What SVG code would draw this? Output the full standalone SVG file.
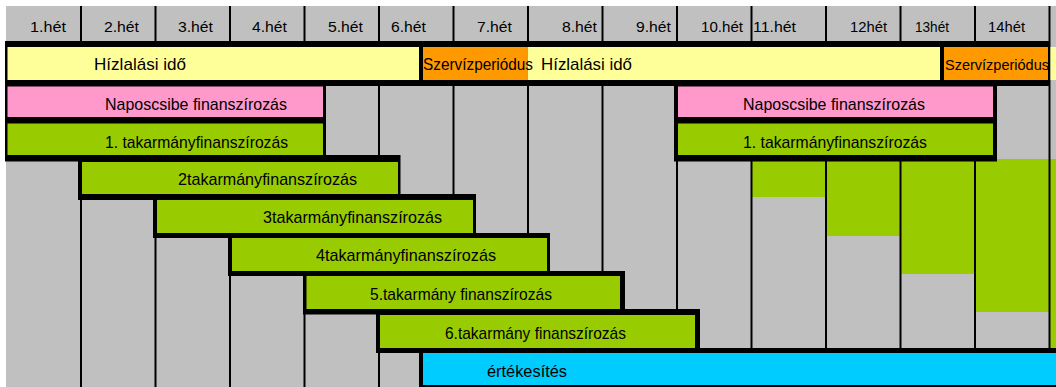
<svg xmlns="http://www.w3.org/2000/svg" width="1056" height="387" viewBox="0 0 1056 387">
  <style>
    .bg { fill: #c0c0c0; }
    .frame { fill: #000; }
    .grid { stroke: #000; stroke-width: 2; }
    .yellow { fill: #ffff99; }
    .orange { fill: #ff9900; }
    .pink { fill: #ff99cc; }
    .green { fill: #99cc00; }
    .cyan { fill: #00ccff; }
    text { font-family: "Liberation Sans", Arial, sans-serif; fill: #000; }
    .hdr { font-size: 15.5px; }
    .lbl { font-size: 17px; }
    .lbl-edge { font-size: 15px; }
  </style>

  <!-- page and timeline background -->
  <rect x="0" y="0" width="1056" height="387" fill="#fff"/>
  <rect class="bg" x="6" y="6" width="1050" height="381"/>

  <!-- weekly fill levels on the right-hand columns -->
  <g id="column-fills">
    <rect class="green" x="752" y="159" width="74" height="38"/>
    <rect class="green" x="826" y="159" width="74.5" height="77"/>
    <rect class="green" x="900.5" y="159" width="74.5" height="115"/>
    <rect class="green" x="975" y="159" width="74.5" height="153"/>
    <rect class="green" x="1049.5" y="159" width="6.5" height="189"/>
  </g>

  <!-- week separators -->
  <g id="grid">
    <line class="grid" x1="81" y1="6" x2="81" y2="387"/>
    <line class="grid" x1="155.5" y1="6" x2="155.5" y2="387"/>
    <line class="grid" x1="230" y1="6" x2="230" y2="387"/>
    <line class="grid" x1="304.5" y1="6" x2="304.5" y2="387"/>
    <line class="grid" x1="379" y1="6" x2="379" y2="387"/>
    <line class="grid" x1="453.5" y1="6" x2="453.5" y2="387"/>
    <line class="grid" x1="528" y1="6" x2="528" y2="387"/>
    <line class="grid" x1="602.5" y1="6" x2="602.5" y2="387"/>
    <line class="grid" x1="677" y1="6" x2="677" y2="387"/>
    <line class="grid" x1="751.5" y1="6" x2="751.5" y2="387"/>
    <line class="grid" x1="826" y1="6" x2="826" y2="387"/>
    <line class="grid" x1="900.5" y1="6" x2="900.5" y2="387"/>
    <line class="grid" x1="975" y1="6" x2="975" y2="387"/>
    <line class="grid" x1="1049.5" y1="6" x2="1049.5" y2="387"/>
  </g>

  <!-- week headings -->
  <g id="header">
    <text class="hdr" x="30" y="32" textLength="36" lengthAdjust="spacingAndGlyphs">1.hét</text>
    <text class="hdr" x="104" y="32" textLength="35" lengthAdjust="spacingAndGlyphs">2.hét</text>
    <text class="hdr" x="178" y="32" textLength="35" lengthAdjust="spacingAndGlyphs">3.hét</text>
    <text class="hdr" x="252" y="32" textLength="35" lengthAdjust="spacingAndGlyphs">4.hét</text>
    <text class="hdr" x="328" y="32" textLength="35" lengthAdjust="spacingAndGlyphs">5.hét</text>
    <text class="hdr" x="391" y="32" textLength="35" lengthAdjust="spacingAndGlyphs">6.hét</text>
    <text class="hdr" x="477" y="32" textLength="35" lengthAdjust="spacingAndGlyphs">7.hét</text>
    <text class="hdr" x="562" y="32" textLength="35" lengthAdjust="spacingAndGlyphs">8.hét</text>
    <text class="hdr" x="636" y="32" textLength="35" lengthAdjust="spacingAndGlyphs">9.hét</text>
    <text class="hdr" x="701" y="32" textLength="42" lengthAdjust="spacingAndGlyphs">10.hét</text>
    <text class="hdr" x="753" y="32" textLength="43" lengthAdjust="spacingAndGlyphs">11.hét</text>
    <text class="hdr" x="850" y="32" textLength="37" lengthAdjust="spacingAndGlyphs">12hét</text>
    <text class="hdr" x="915" y="32" textLength="34" lengthAdjust="spacingAndGlyphs">13hét</text>
    <text class="hdr" x="988" y="32" textLength="37" lengthAdjust="spacingAndGlyphs">14hét</text>
  </g>

  <!-- fattening / service periods -->
  <g id="row-periods">
    <rect class="frame" x="5" y="41" width="1045" height="45"/>
    <rect class="yellow" x="7.5" y="47" width="411.5" height="33"/>
    <rect class="orange" x="423" y="47" width="104.5" height="33"/>
    <rect class="yellow" x="527.5" y="47" width="412.5" height="33"/>
    <rect class="orange" x="944" y="47" width="104" height="33"/>
    <rect class="yellow" x="1050.5" y="47" width="5.5" height="33"/>
    <text class="lbl" x="94" y="70" textLength="92" lengthAdjust="spacingAndGlyphs">Hízlalási idő</text>
    <text class="lbl" x="423" y="70" textLength="110" lengthAdjust="spacingAndGlyphs">Szervízperiódus</text>
    <text class="lbl" x="541" y="70" textLength="91" lengthAdjust="spacingAndGlyphs">Hízlalási idő</text>
    <text class="lbl-edge" x="945" y="70" textLength="104" lengthAdjust="spacingAndGlyphs">Szervízperiódus</text>
  </g>

  <!-- first cycle: chick financing and 1st feed financing -->
  <g id="cycle1-start">
    <rect class="frame" x="5" y="85" width="321" height="76.5"/>
    <rect class="pink" x="7.5" y="86.5" width="315.5" height="30.5"/>
    <rect class="green" x="7.5" y="123.5" width="315.5" height="31.5"/>
    <text class="lbl" x="105" y="110" textLength="182" lengthAdjust="spacingAndGlyphs">Naposcsibe finanszírozás</text>
    <text class="lbl" x="105" y="148" textLength="183" lengthAdjust="spacingAndGlyphs">1. takarmányfinanszírozás</text>
  </g>

  <!-- second cycle: chick financing and 1st feed financing -->
  <g id="cycle2-start">
    <rect class="frame" x="674" y="85" width="323" height="76.5"/>
    <rect class="pink" x="678" y="86.5" width="315" height="30.5"/>
    <rect class="green" x="678" y="123.5" width="315" height="31.5"/>
    <text class="lbl" x="743" y="110" textLength="182" lengthAdjust="spacingAndGlyphs">Naposcsibe finanszírozás</text>
    <text class="lbl" x="743" y="148" textLength="184" lengthAdjust="spacingAndGlyphs">1. takarmányfinanszírozás</text>
  </g>

  <!-- staggered feed financing bars -->
  <g id="feed-2">
    <rect class="frame" x="78" y="155" width="322.5" height="45"/>
    <rect class="green" x="82" y="162" width="316" height="32"/>
    <text class="lbl" x="178" y="185" textLength="179" lengthAdjust="spacingAndGlyphs">2takarmányfinanszírozás</text>
  </g>
  <g id="feed-3">
    <rect class="frame" x="153" y="194" width="323" height="44"/>
    <rect class="green" x="157" y="200" width="316" height="33"/>
    <text class="lbl" x="263" y="223" textLength="179" lengthAdjust="spacingAndGlyphs">3takarmányfinanszírozás</text>
  </g>
  <g id="feed-4">
    <rect class="frame" x="228" y="233" width="322" height="43"/>
    <rect class="green" x="232" y="238" width="315" height="33"/>
    <text class="lbl" x="316" y="261" textLength="180" lengthAdjust="spacingAndGlyphs">4takarmányfinanszírozás</text>
  </g>
  <g id="feed-5">
    <rect class="frame" x="303" y="271" width="322" height="43.5"/>
    <rect class="green" x="306.5" y="276" width="313.5" height="33"/>
    <text class="lbl" x="370" y="300" textLength="182" lengthAdjust="spacingAndGlyphs">5.takarmány finanszírozás</text>
  </g>
  <g id="feed-6">
    <rect class="frame" x="376" y="309" width="324" height="44"/>
    <rect class="green" x="380" y="315" width="315" height="33"/>
    <text class="lbl" x="445" y="339" textLength="181" lengthAdjust="spacingAndGlyphs">6.takarmány finanszírozás</text>
  </g>

  <!-- sales -->
  <g id="sales">
    <rect class="frame" x="419" y="348" width="637" height="39"/>
    <rect class="cyan" x="423" y="353" width="633" height="32"/>
    <text class="lbl" x="487" y="377" textLength="80" lengthAdjust="spacingAndGlyphs">értékesítés</text>
  </g>
</svg>
